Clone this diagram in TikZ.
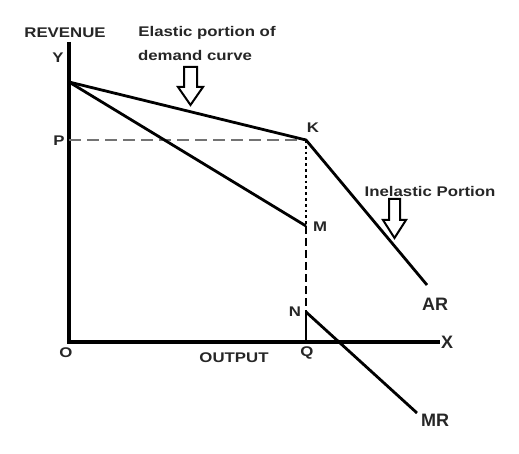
\documentclass[tikz,border=0pt]{standalone}
\usepackage{fontspec}
\setmainfont{Liberation Sans}
\begin{document}
\begin{tikzpicture}[x=1pt,y=-1pt,
  lbl/.style={font=\bfseries\fontsize{14}{16}\selectfont, text=black!85, inner sep=0pt, transform shape, xscale=1.2},
  big/.style={font=\bfseries\fontsize{18}{20}\selectfont, text=black!85, inner sep=0pt},
  axis/.style={line width=3.2pt},
  curve/.style={line width=2.8pt},
  hollow/.style={draw, fill=white, line width=2pt, line join=miter}]
\useasboundingbox (0,0) rectangle (519,454);
% points
\coordinate (O) at (69,342);
\coordinate (Ytop) at (69,42);
\coordinate (Xend) at (440,342);
\coordinate (A) at (69,82);
\coordinate (K) at (306,140);
\coordinate (ARend) at (427,285);
\coordinate (M) at (306,226);
\coordinate (N) at (306,312);
\coordinate (Q) at (306,342);
\coordinate (MRend) at (417,413);
\coordinate (Pp) at (69,140);
% axes
\draw[axis] (Ytop) -- (O) -- (Xend);
% P dashed line
\draw[line width=1.8pt, black!55, dash pattern=on 12pt off 6pt] (Pp) -- (K);
% verticals
\draw[line width=2.8pt, dash pattern=on 2.8pt off 3pt] (K) -- (M);
\draw[line width=2.8pt, dash pattern=on 8pt off 4pt] (M) -- (N);
\draw[line width=2.8pt] (N) -- (Q);
% curves
\draw[curve, line join=round] (A) -- (K) -- (ARend);
\draw[curve] (A) -- (M);
\draw[curve] (N) -- (MRend);
% hollow arrows
\draw[hollow] (184,67) -- (197,67) -- (197,87) -- (203,87) -- (190.5,105) -- (178,87) -- (184,87) -- cycle;
\draw[hollow] (389,199) -- (400,199) -- (400,220) -- (406,220) -- (394.5,238) -- (383,220) -- (389,220) -- cycle;
% labels
\node[lbl] (rev) at (65,33) {REVENUE};
\node[lbl] (ylab) at (58,58) {Y};
\node[lbl] (plab) at (59,141) {P};
\node[lbl] (el1) at (207,33) {Elastic portion of};
\node[lbl] (el2) at (195,55) {demand curve};
\node[lbl] (klab) at (313,128) {K};
\node[lbl] (mlab) at (320,227) {M};
\node[lbl] (nlab) at (295,312) {N};
\node[lbl] (qlab) at (307,353) {Q};
\node[lbl] (olab) at (66,353) {O};
\node[lbl] (out) at (234,358) {OUTPUT};
\node[lbl] (inel) at (430,191) {Inelastic Portion};
\node[big] (xlab) at (447,342) {X};
\node[big] (ar) at (435,304) {AR};
\node[big] (mr) at (435,420) {MR};
\end{tikzpicture}
\end{document}
